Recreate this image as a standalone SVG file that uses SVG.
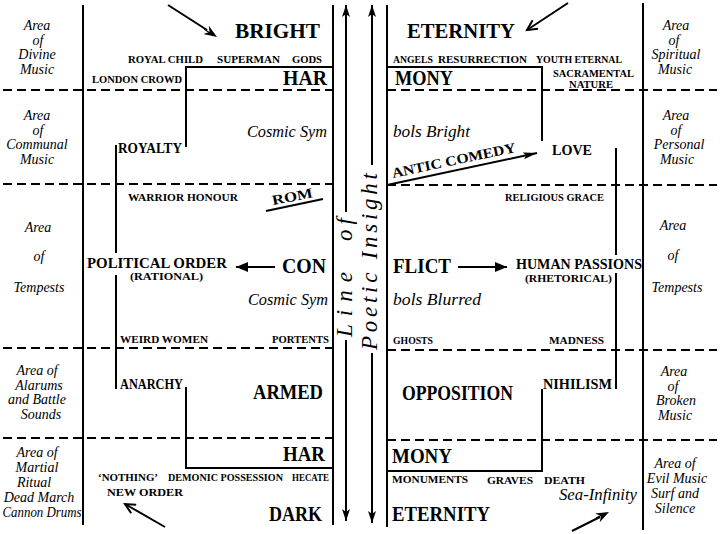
<svg xmlns="http://www.w3.org/2000/svg" width="720" height="534" viewBox="0 0 720 534">
<style>
text{font-family:"Liberation Serif","DejaVu Serif",serif;fill:#000}
.lg{font-size:20px;font-weight:bold}
.md{font-size:14px;font-weight:bold}
.sm{font-size:11px;font-weight:bold}
.xs{font-size:10px;font-weight:bold}
.it{font-size:16px;font-style:italic}
.ar{font-size:14px;font-style:italic;text-anchor:middle}
.vt{font-size:23px;font-style:italic}
.ln{stroke:#000;stroke-width:2;fill:none}
.ds{stroke:#000;stroke-width:1.8;stroke-dasharray:9 5;fill:none}
</style>
<defs>
<marker id="vh" viewBox="0 0 12 8" refX="12" refY="4" markerWidth="12" markerHeight="8" markerUnits="userSpaceOnUse" orient="auto"><path d="M0,0 L12,4 L0,8 L3,4 Z" fill="#000"/></marker>
<marker id="fh" viewBox="0 0 12 10" refX="12" refY="5" markerWidth="12" markerHeight="10" markerUnits="userSpaceOnUse" orient="auto"><path d="M0,0 L12,5 L0,10 Z" fill="#000"/></marker>
<marker id="nh" viewBox="0 0 14 7" refX="14" refY="3.5" markerWidth="14" markerHeight="7" markerUnits="userSpaceOnUse" orient="auto"><path d="M0,0 L14,3.5 L0,7 L3,3.5 Z" fill="#000"/></marker>
</defs>
<rect width="720" height="534" fill="#fff"/>

<g id="connectors">
<line class="ln" x1="83" y1="5" x2="83" y2="525"/>
<line class="ln" x1="643" y1="3" x2="643" y2="530"/>
<line class="ln" x1="333" y1="5" x2="333" y2="525"/>
<line class="ln" x1="387" y1="5" x2="387" y2="527"/>
<path class="ds" d="M3,90 H333 M387,90 H717"/>
<path class="ds" d="M3,184 H333 M387,185 H717"/>
<path class="ds" d="M3,348 H333 M387,350 H717"/>
<path class="ds" d="M3,438 H333 M387,440 H717"/>
<path class="ln" d="M333,67 H186 V147"/>
<path class="ln" d="M116,145 V253 M116,275 V389"/>
<path class="ln" d="M186,387 V468 H333"/>
<path class="ln" d="M387,67 H542 V141"/>
<path class="ln" d="M616,148 V255 M616,273 V389"/>
<path class="ln" d="M542,389 V471 H387"/>
<line class="ln" x1="346" y1="212" x2="346" y2="5" stroke-width="1.8" marker-end="url(#vh)"/>
<line class="ln" x1="346" y1="340" x2="346" y2="521" stroke-width="1.8" marker-end="url(#vh)"/>
<line class="ln" x1="372" y1="165" x2="372" y2="5" stroke-width="1.8" marker-end="url(#vh)"/>
<line class="ln" x1="372" y1="353" x2="372" y2="523" stroke-width="1.8" marker-end="url(#vh)"/>
<line class="ln" x1="275" y1="267" x2="236" y2="267" marker-end="url(#fh)"/>
<line class="ln" x1="458" y1="267" x2="507" y2="267" marker-end="url(#fh)"/>
<line class="ln" x1="387" y1="185" x2="537" y2="153" marker-end="url(#nh)"/>
<line class="ln" x1="266" y1="211" x2="323" y2="199"/>
<line class="ln" x1="168" y1="5" x2="207" y2="30" stroke-width="1.8"/>
<polygon points="217,37 208.8,25.7 209.5,32.1 203.4,34.1" fill="#000"/>
<line x1="204" y1="29" x2="210" y2="33" stroke="#000" stroke-width="1.2"/>
<line class="ln" x1="568" y1="3" x2="527" y2="30" stroke-width="1.8"/>
<path class="ln" d="M532.6,20.3 L527,30 L538.1,28.7" stroke-width="1.8"/>
<line class="ln" x1="165" y1="527" x2="125" y2="504" stroke-width="1.8"/>
<path class="ln" d="M136.2,504.7 L125,504 L131.2,513.3" stroke-width="1.8"/>
<line class="ln" x1="572" y1="531" x2="600" y2="517" stroke-width="1.8"/>
<polygon points="609,512 595.1,513.5 601,516.1 599.7,522.3" fill="#000"/>
<line x1="596" y1="518" x2="603" y2="514.5" stroke="#000" stroke-width="1.2"/>
</g>

<g id="line-of-poetic-insight">
<text class="vt" transform="translate(352,337) rotate(-90)" textLength="65" lengthAdjust="spacing">Line</text>
<text class="vt" transform="translate(352,241) rotate(-90)" textLength="23" lengthAdjust="spacing">of</text>
<text class="vt" transform="translate(377,350) rotate(-90)" textLength="177" lengthAdjust="spacing">Poetic Insight</text>
</g>

<g id="bright-eternity">
<text class="lg" x="235" y="38" textLength="85" lengthAdjust="spacingAndGlyphs">BRIGHT</text>
<text class="lg" x="407" y="38" textLength="108" lengthAdjust="spacingAndGlyphs">ETERNITY</text>
</g>
<g id="upper-labels">
<text class="sm" x="128" y="63" textLength="75" lengthAdjust="spacingAndGlyphs">ROYAL CHILD</text>
<text class="sm" x="217" y="63" textLength="63" lengthAdjust="spacingAndGlyphs">SUPERMAN</text>
<text class="sm" x="292" y="63" textLength="30" lengthAdjust="spacingAndGlyphs">GODS</text>
<text class="sm" x="92" y="83" textLength="90" lengthAdjust="spacingAndGlyphs">LONDON CROWD</text>
<text class="sm" x="393" y="63" textLength="40" lengthAdjust="spacingAndGlyphs">ANGELS</text>
<text class="sm" x="438" y="63" textLength="89" lengthAdjust="spacingAndGlyphs">RESURRECTION</text>
<text class="sm" x="536" y="63" textLength="86" lengthAdjust="spacingAndGlyphs">YOUTH ETERNAL</text>
<text class="sm" x="553" y="77" textLength="81" lengthAdjust="spacingAndGlyphs">SACRAMENTAL</text>
<text class="sm" x="569" y="88" textLength="44" lengthAdjust="spacingAndGlyphs">NATURE</text>
</g>
<g id="harmony-top">
<text class="lg" x="283" y="85" textLength="44" lengthAdjust="spacingAndGlyphs">HAR</text>
<text class="lg" x="395" y="85" textLength="58" lengthAdjust="spacingAndGlyphs">MONY</text>
</g>
<g id="symbols-bright">
<text class="it" x="247" y="137" textLength="80" lengthAdjust="spacingAndGlyphs">Cosmic Sym</text>
<text class="it" x="393" y="137" textLength="77" lengthAdjust="spacingAndGlyphs">bols Bright</text>
</g>
<g id="royalty"><text class="md" x="118" y="153" textLength="64" lengthAdjust="spacingAndGlyphs">ROYALTY</text></g>
<g id="love"><text class="md" x="552" y="155" textLength="40" lengthAdjust="spacingAndGlyphs">LOVE</text></g>
<g id="antic-comedy"><text class="md" transform="translate(393,178) rotate(-12)" textLength="126" lengthAdjust="spacingAndGlyphs">ANTIC COMEDY</text></g>
<g id="rom"><text class="md" transform="translate(273,205) rotate(-11)" textLength="41" lengthAdjust="spacingAndGlyphs">ROM</text></g>
<g id="warrior-religious">
<text class="sm" x="128" y="201" textLength="110" lengthAdjust="spacingAndGlyphs">WARRIOR HONOUR</text>
<text class="sm" x="505" y="201" textLength="99" lengthAdjust="spacingAndGlyphs">RELIGIOUS GRACE</text>
</g>
<g id="political-order">
<text class="md" x="87" y="268" font-size="16" textLength="140" lengthAdjust="spacingAndGlyphs">POLITICAL ORDER</text>
<text class="xs" x="130" y="280" textLength="73" lengthAdjust="spacingAndGlyphs">(RATIONAL)</text>
</g>
<g id="conflict">
<text class="lg" x="282" y="273" font-size="18" textLength="44" lengthAdjust="spacingAndGlyphs">CON</text>
<text class="lg" x="393" y="273" font-size="18" textLength="58" lengthAdjust="spacingAndGlyphs">FLICT</text>
</g>
<g id="human-passions">
<text class="md" x="516" y="269" font-size="15" textLength="126" lengthAdjust="spacingAndGlyphs">HUMAN PASSIONS</text>
<text class="xs" x="525" y="282" textLength="87" lengthAdjust="spacingAndGlyphs">(RHETORICAL)</text>
</g>
<g id="symbols-blurred">
<text class="it" x="248" y="305" textLength="80" lengthAdjust="spacingAndGlyphs">Cosmic Sym</text>
<text class="it" x="393" y="305" textLength="88" lengthAdjust="spacingAndGlyphs">bols Blurred</text>
</g>
<g id="weird-labels">
<text class="sm" x="120" y="343" textLength="88" lengthAdjust="spacingAndGlyphs">WEIRD WOMEN</text>
<text class="sm" x="272" y="343" textLength="57" lengthAdjust="spacingAndGlyphs">PORTENTS</text>
<text class="xs" x="393" y="344" textLength="40" lengthAdjust="spacingAndGlyphs">GHOSTS</text>
<text class="sm" x="549" y="344" textLength="55" lengthAdjust="spacingAndGlyphs">MADNESS</text>
</g>
<g id="anarchy"><text class="md" x="120" y="389" textLength="63" lengthAdjust="spacingAndGlyphs">ANARCHY</text></g>
<g id="nihilism"><text class="md" x="543" y="389" textLength="69" lengthAdjust="spacingAndGlyphs">NIHILISM</text></g>
<g id="armed-opposition">
<text class="lg" x="253" y="399" textLength="70" lengthAdjust="spacingAndGlyphs">ARMED</text>
<text class="lg" x="402" y="400" textLength="111" lengthAdjust="spacingAndGlyphs">OPPOSITION</text>
</g>
<g id="harmony-bottom">
<text class="lg" x="283" y="461" textLength="42" lengthAdjust="spacingAndGlyphs">HAR</text>
<text class="lg" x="392" y="463" textLength="60" lengthAdjust="spacingAndGlyphs">MONY</text>
</g>
<g id="lower-labels">
<text class="sm" x="98" y="481" textLength="60" lengthAdjust="spacingAndGlyphs">‘NOTHING’</text>
<text class="sm" x="168" y="481" textLength="115" lengthAdjust="spacingAndGlyphs">DEMONIC POSSESSION</text>
<text class="sm" x="292" y="481" textLength="37" lengthAdjust="spacingAndGlyphs">HECATE</text>
<text class="sm" x="107" y="496" textLength="76" lengthAdjust="spacingAndGlyphs">NEW ORDER</text>
<text class="sm" x="392" y="483" textLength="76" lengthAdjust="spacingAndGlyphs">MONUMENTS</text>
<text class="sm" x="487" y="484" textLength="46" lengthAdjust="spacingAndGlyphs">GRAVES</text>
<text class="sm" x="544" y="484" textLength="41" lengthAdjust="spacingAndGlyphs">DEATH</text>
<text class="it" x="559" y="500" font-size="15" textLength="78" lengthAdjust="spacingAndGlyphs">Sea-Infinity</text>
</g>
<g id="dark-eternity">
<text class="lg" x="269" y="521" textLength="53" lengthAdjust="spacingAndGlyphs">DARK</text>
<text class="lg" x="392" y="521" textLength="98" lengthAdjust="spacingAndGlyphs">ETERNITY</text>
</g>

<g id="area-divine">
<text class="ar" x="37" y="30">Area</text><text class="ar" x="38" y="44.5">of</text><text class="ar" x="37" y="59">Divine</text><text class="ar" x="37" y="74">Music</text>
</g>
<g id="area-communal">
<text class="ar" x="37" y="120">Area</text><text class="ar" x="38" y="134.5">of</text><text class="ar" x="37" y="149">Communal</text><text class="ar" x="37" y="163.5">Music</text>
</g>
<g id="area-tempests-left">
<text class="ar" x="38" y="232" font-size="15">Area</text><text class="ar" x="39" y="261" font-size="15">of</text><text class="ar" x="39" y="292" font-size="15">Tempests</text>
</g>
<g id="area-alarums">
<text class="ar" x="37" y="375">Area of</text><text class="ar" x="39" y="389.5">Alarums</text><text class="ar" x="37" y="404">and Battle</text><text class="ar" x="41" y="418.5">Sounds</text>
</g>
<g id="area-martial">
<text class="ar" x="37" y="457">Area of</text><text class="ar" x="37" y="472">Martial</text><text class="ar" x="34" y="487">Ritual</text><text class="ar" x="39" y="502">Dead March</text><text class="ar" x="42" y="517" textLength="79" lengthAdjust="spacingAndGlyphs">Cannon Drums</text>
</g>
<g id="area-spiritual">
<text class="ar" x="676" y="30">Area</text><text class="ar" x="674" y="44.5">of</text><text class="ar" x="676" y="59">Spiritual</text><text class="ar" x="675" y="74">Music</text>
</g>
<g id="area-personal">
<text class="ar" x="676" y="120">Area</text><text class="ar" x="676" y="134.5">of</text><text class="ar" x="679" y="149">Personal</text><text class="ar" x="677" y="163.5">Music</text>
</g>
<g id="area-tempests-right">
<text class="ar" x="673" y="230" font-size="15">Area</text><text class="ar" x="673" y="260" font-size="15">of</text><text class="ar" x="677" y="292" font-size="15">Tempests</text>
</g>
<g id="area-broken">
<text class="ar" x="674" y="376">Area</text><text class="ar" x="673" y="390.5">of</text><text class="ar" x="676" y="405">Broken</text><text class="ar" x="675" y="419.5">Music</text>
</g>
<g id="area-evil">
<text class="ar" x="675" y="468">Area of</text><text class="ar" x="677" y="483">Evil Music</text><text class="ar" x="675" y="498">Surf and</text><text class="ar" x="675" y="513">Silence</text>
</g>
</svg>
